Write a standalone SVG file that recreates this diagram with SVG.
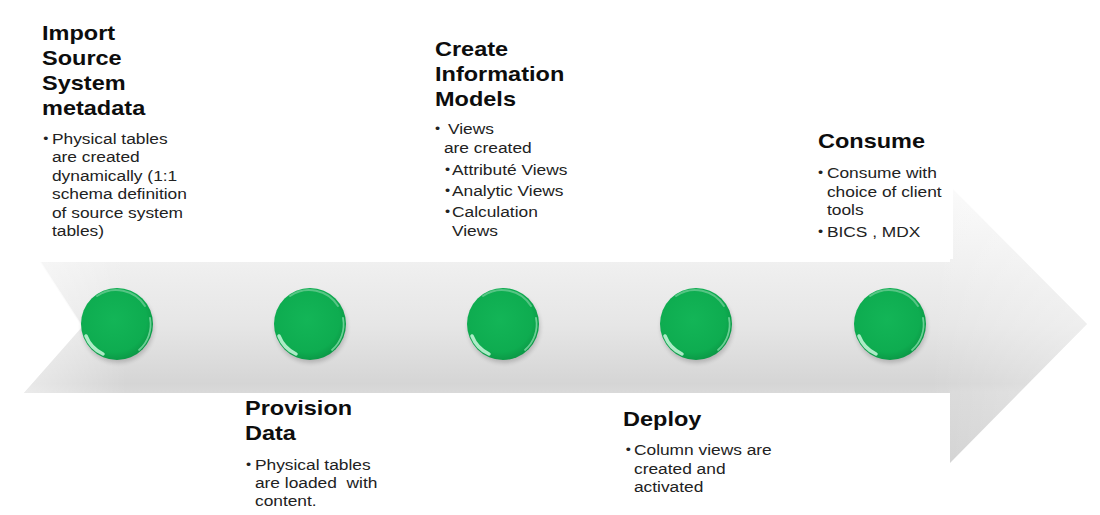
<svg xmlns="http://www.w3.org/2000/svg" xmlns:xlink="http://www.w3.org/1999/xlink" width="1100" height="515" viewBox="0 0 1100 515">
  <defs>
    <style>
      .title { font-family: "Liberation Sans", Arial, sans-serif; font-weight: bold; font-size: 21px; fill: #0d0d0d; }
      .body { font-family: "Liberation Sans", Arial, sans-serif; font-size: 15.5px; fill: #222; }
      .bul { font-family: "Liberation Sans", Arial, sans-serif; font-size: 13px; fill: #222; }
    </style>
    <linearGradient id="arrowFill" gradientUnits="userSpaceOnUse" x1="0" y1="185" x2="0" y2="465">
      <stop offset="0" stop-color="#fbfbfb"/>
      <stop offset="0.27" stop-color="#f0f0f0"/>
      <stop offset="0.5" stop-color="#e6e6e6"/>
      <stop offset="0.71" stop-color="#d5d5d5"/>
      <stop offset="0.74" stop-color="#d9d9d9"/>
      <stop offset="1" stop-color="#d2d2d2"/>
    </linearGradient>
    <linearGradient id="arrowSheen" gradientUnits="userSpaceOnUse" x1="20" y1="0" x2="1090" y2="0">
      <stop offset="0" stop-color="#ffffff" stop-opacity="0.5"/>
      <stop offset="0.1" stop-color="#ffffff" stop-opacity="0"/>
      <stop offset="0.85" stop-color="#ffffff" stop-opacity="0"/>
      <stop offset="1" stop-color="#ffffff" stop-opacity="0.35"/>
    </linearGradient>
    <radialGradient id="ballFill" cx="0.46" cy="0.44" r="0.6">
      <stop offset="0" stop-color="#13b557"/>
      <stop offset="0.75" stop-color="#0eac50"/>
      <stop offset="1" stop-color="#0a9443"/>
    </radialGradient>
    <filter id="soft" x="-30%" y="-30%" width="160%" height="160%">
      <feGaussianBlur stdDeviation="2"/>
    </filter>
    <g id="ball">
      <circle cx="1" cy="3" r="36" fill="#000" opacity="0.18" filter="url(#soft)"/>
      <circle cx="0" cy="0" r="36" fill="url(#ballFill)"/>
      <path d="M -20 -28 A 34 34 0 0 1 28 -18" fill="none" stroke="#ffffff" stroke-opacity="0.3" stroke-width="2" stroke-linecap="round"/>
      <path d="M 33 -6 A 34 34 0 0 1 22 26" fill="none" stroke="#b8f5d2" stroke-opacity="0.55" stroke-width="1.8" stroke-linecap="round"/>
      <path d="M -31 12 A 33 33 0 0 0 -14 30" fill="none" stroke="#c9f7dc" stroke-opacity="0.85" stroke-width="3.5" stroke-linecap="round"/>
    </g>
  </defs>

  <rect width="1100" height="515" fill="#ffffff"/>

  <g id="connectors">
    <polygon id="timeline-arrow" points="40,262 950,262 950,186 1087,324 950,463 950,393 24,393 82,327" fill="url(#arrowFill)"/>
    <polygon points="40,262 950,262 950,186 1087,324 950,463 950,393 24,393 82,327" fill="url(#arrowSheen)"/>
    <path d="M 40 262 L 82 327" stroke="#ffffff" stroke-opacity="0.7" stroke-width="2" fill="none"/>
  </g>

  <g id="step-import">
    <use xlink:href="#ball" href="#ball" x="117" y="324"/>
    <g transform="translate(42,0) scale(1.12,1)">
      <text class="title" x="0" y="40">Import</text>
      <text class="title" x="0" y="65">Source</text>
      <text class="title" x="0" y="90">System</text>
      <text class="title" x="0" y="115">metadata</text>
      <text class="bul" x="1.2" y="143">•</text>
      <text class="body" x="8.9" y="144">Physical tables</text>
      <text class="body" x="8.9" y="162.5">are created</text>
      <text class="body" x="8.9" y="181">dynamically (1:1</text>
      <text class="body" x="8.9" y="199.5">schema definition</text>
      <text class="body" x="8.9" y="218">of source system</text>
      <text class="body" x="8.9" y="236.5">tables)</text>
    </g>
  </g>

  <g id="step-provision">
    <use xlink:href="#ball" href="#ball" x="310" y="324"/>
    <g transform="translate(245,0) scale(1.12,1)">
      <text class="title" x="0" y="415">Provision</text>
      <text class="title" x="0" y="440">Data</text>
      <text class="bul" x="0.8" y="469">•</text>
      <text class="body" x="8.9" y="470">Physical tables</text>
      <text class="body" x="8.9" y="488" xml:space="preserve">are loaded  with</text>
      <text class="body" x="8.9" y="506">content.</text>
    </g>
  </g>

  <g id="step-create">
    <use xlink:href="#ball" href="#ball" x="503" y="324"/>
    <g transform="translate(435,0) scale(1.12,1)">
      <text class="title" x="0" y="56">Create</text>
      <text class="title" x="0" y="81">Information</text>
      <text class="title" x="0" y="106">Models</text>
      <text class="bul" x="0" y="133">•</text>
      <text class="body" x="11.6" y="134">Views</text>
      <text class="body" x="8" y="153">are created</text>
      <text class="bul" x="9" y="174">•</text>
      <text class="body" x="15.2" y="175">Attributé Views</text>
      <text class="bul" x="9" y="195">•</text>
      <text class="body" x="15.2" y="196">Analytic Views</text>
      <text class="bul" x="9" y="216">•</text>
      <text class="body" x="15.2" y="217">Calculation</text>
      <text class="body" x="15.2" y="236">Views</text>
    </g>
  </g>

  <g id="step-deploy">
    <use xlink:href="#ball" href="#ball" x="696" y="324"/>
    <g transform="translate(623,0) scale(1.12,1)">
      <text class="title" x="0" y="426">Deploy</text>
      <text class="bul" x="2.5" y="454">•</text>
      <text class="body" x="9.8" y="455">Column views are</text>
      <text class="body" x="9.8" y="474">created and</text>
      <text class="body" x="9.8" y="492">activated</text>
    </g>
  </g>

  <g id="step-consume">
    <use xlink:href="#ball" href="#ball" x="890" y="324"/>
    <rect x="812" y="118" width="141" height="141" fill="#ffffff"/>
    <g transform="translate(818,0) scale(1.12,1)">
      <text class="title" x="0" y="148">Consume</text>
      <text class="bul" x="0" y="177">•</text>
      <text class="body" x="8" y="178">Consume with</text>
      <text class="body" x="8" y="197">choice of client</text>
      <text class="body" x="8" y="215">tools</text>
      <text class="bul" x="0" y="236">•</text>
      <text class="body" x="8" y="237">BICS , MDX</text>
    </g>
  </g>
</svg>
